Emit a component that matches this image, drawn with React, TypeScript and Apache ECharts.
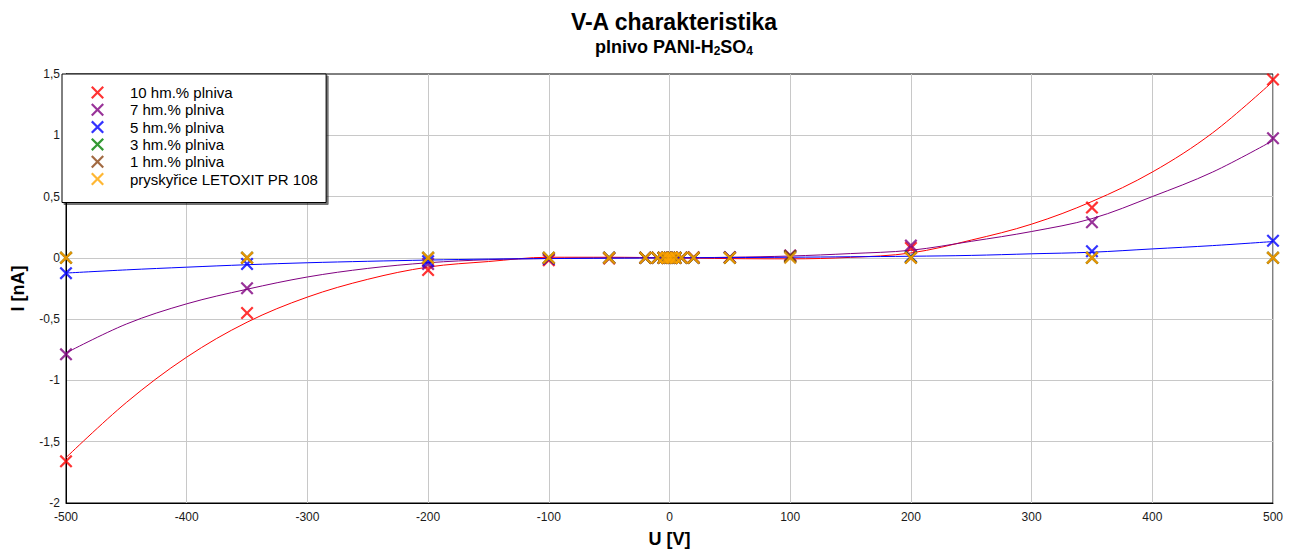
import { useEffect, useRef } from "react";
import * as echarts from "echarts";

// Measured voltages [V]
const voltages = [-500, -350, -200, -100, -50, -20, -10, -5, -2, 0, 2, 5, 10, 20, 50, 100, 200, 350, 500];

// Measured currents [nA] per filler content
const current10 = [-1.66, -0.45, -0.1, -0.02, -0.005, 0, 0, 0, 0, 0, 0, 0, 0.002, 0.005, 0.005, 0.015, 0.08, 0.41, 1.455];
const current7 = [-0.787, -0.248, -0.05, -0.01, 0, 0, 0, 0, 0, 0, 0, 0, 0, 0, 0.005, 0.02, 0.1, 0.29, 0.976];
const current5 = [-0.125, -0.05, -0.027, -0.005, 0, 0, 0, 0, 0, 0, 0, 0, 0, 0, 0.003, 0.005, 0.01, 0.054, 0.14];
const current3 = [0, 0, 0, 0, 0, 0, 0, 0, 0, 0, 0, 0, 0, 0, 0, 0.01, 0.005, 0, 0];
const current1 = [0, 0, 0, 0, 0, 0, 0, 0, 0, 0, 0, 0, 0, 0, 0, 0.015, 0, 0, 0];
const currentResin = [0, 0, 0, 0, 0, 0, 0, 0, 0, 0, 0, 0, 0, 0, 0, 0, 0, 0, 0];

// Trend curves sampled every 50 V
const trendU = [-500, -450, -400, -350, -300, -250, -200, -150, -100, -50, 0, 50, 100, 150, 200, 250, 300, 350, 400, 450, 500];
const trend10 = [-1.63, -1.18, -0.81, -0.525, -0.32, -0.175, -0.075, -0.03, 0.005, 0.005, 0, -0.006, -0.008, 0.004, 0.04, 0.145, 0.275, 0.46, 0.7, 1.02, 1.44];
const trend7 = [-0.776, -0.54, -0.375, -0.256, -0.156, -0.086, -0.04, -0.015, -0.005, 0, 0, 0.005, 0.015, 0.035, 0.062, 0.135, 0.215, 0.32, 0.5, 0.7, 0.957];
const trend5 = [-0.124, -0.098, -0.076, -0.056, -0.04, -0.028, -0.018, -0.01, -0.006, -0.003, 0, 0.002, 0.005, 0.009, 0.013, 0.02, 0.033, 0.046, 0.073, 0.1, 0.133];

const seriesNames = [
  "10 hm.% plniva",
  "7 hm.% plniva",
  "5 hm.% plniva",
  "3 hm.% plniva",
  "1 hm.% plniva",
  "pryskyřice LETOXIT PR 108",
];
const colors = ["#ff0000", "#800080", "#0000ff", "#008000", "#8b4513", "#ffa500"];

const cross =
  "path://M0,1.2L1.2,0L5,3.8L8.8,0L10,1.2L6.2,5L10,8.8L8.8,10L5,6.2L1.2,10L0,8.8L3.8,5Z";

const FONT = "Liberation Sans, Arial, sans-serif";

export default function App() {
  const ref = useRef<HTMLDivElement>(null);

  useEffect(() => {
    if (!ref.current) return;
    const chart = echarts.init(ref.current, undefined, { renderer: "svg" });

    const measured = [current10, current7, current5, current3, current1, currentResin];
    const trends = [trend10, trend7, trend5];

    const trendSeries = trends.map((t, i) => ({
      type: "line",
      name: "fit-" + i,
      data: trendU.map((u, k) => [u, t[k]]),
      smooth: 0.35,
      showSymbol: false,
      symbol: "none",
      lineStyle: { color: colors[i], width: 1 },
      z: 2,
      silent: true,
    }));

    const scatterSeries = measured.map((vals, i) => ({
      type: "scatter",
      name: seriesNames[i],
      data: voltages.map((u, k) => [u, vals[k]]),
      symbol: cross,
      symbolSize: 13,
      itemStyle: { color: colors[i] },
      z: 3,
    }));

    chart.setOption({
      animation: false,
      backgroundColor: "#ffffff",
      textStyle: { fontFamily: FONT },
      title: {
        left: 669,
        textAlign: "center",
        top: 5,
        itemGap: 3,
        text: "V-A charakteristika",
        textStyle: { fontFamily: FONT, fontSize: 23, fontWeight: "bold", color: "#000" },
        subtext: "plnivo PANI-H{sub|2}SO{sub|4}",
        subtextStyle: {
          fontFamily: FONT,
          fontSize: 18,
          fontWeight: "bold",
          color: "#000",
          rich: {
            sub: { fontFamily: FONT, fontSize: 12, fontWeight: "bold", color: "#000", verticalAlign: "bottom", lineHeight: 21 },
          },
        },
      },
      legend: {
        data: seriesNames,
        orient: "vertical",
        left: 62,
        top: 74,
        itemWidth: 13,
        itemHeight: 13,
        itemGap: 2.3,
        padding: [11, 8, 16, 29],
        backgroundColor: "#ffffff",
        borderColor: "#000000",
        borderWidth: 1,
        shadowColor: "rgba(0,0,0,0.55)",
        shadowOffsetX: 2,
        shadowOffsetY: 2,
        shadowBlur: 0,
        textStyle: { fontFamily: FONT, fontSize: 15, color: "#000", padding: [0, 0, 0, 21] },
      },
      grid: {
        left: 66,
        right: 18,
        top: 74,
        bottom: 46,
        show: true,
        borderColor: "#000000",
        borderWidth: 1,
        containLabel: false,
      },
      xAxis: {
        type: "value",
        min: -500,
        max: 500,
        interval: 100,
        name: "U [V]",
        nameLocation: "middle",
        nameGap: 27,
        nameTextStyle: { fontFamily: FONT, fontSize: 18, fontWeight: "bold", color: "#000" },
        axisLine: { show: true, onZero: false, lineStyle: { color: "#000", width: 1 } },
        axisTick: { show: false },
        axisLabel: { fontFamily: FONT, fontSize: 12, color: "#1a1a1a", margin: 8 },
        splitLine: { show: true, lineStyle: { color: "#c8c8c8", width: 1 }, showMinLine: false },
      },
      yAxis: {
        type: "value",
        min: -2,
        max: 1.5,
        interval: 0.5,
        name: "I [nA]",
        nameLocation: "middle",
        nameGap: 39,
        nameTextStyle: { fontFamily: FONT, fontSize: 18, fontWeight: "bold", color: "#000" },
        axisLine: { show: true, onZero: false, lineStyle: { color: "#000", width: 1 } },
        axisTick: { show: false },
        axisLabel: {
          fontFamily: FONT,
          fontSize: 12,
          color: "#1a1a1a",
          margin: 6,
          formatter: (v: number) => String(v).replace(".", ","),
        },
        splitLine: { show: true, lineStyle: { color: "#c8c8c8", width: 1 }, showMinLine: false, showMaxLine: false },
      },
      series: [...trendSeries, ...scatterSeries],
    });

    return () => chart.dispose();
  }, []);

  return <div ref={ref} style={{ position: "fixed", left: 0, top: 0, width: 1291, height: 553 }} />;
}
